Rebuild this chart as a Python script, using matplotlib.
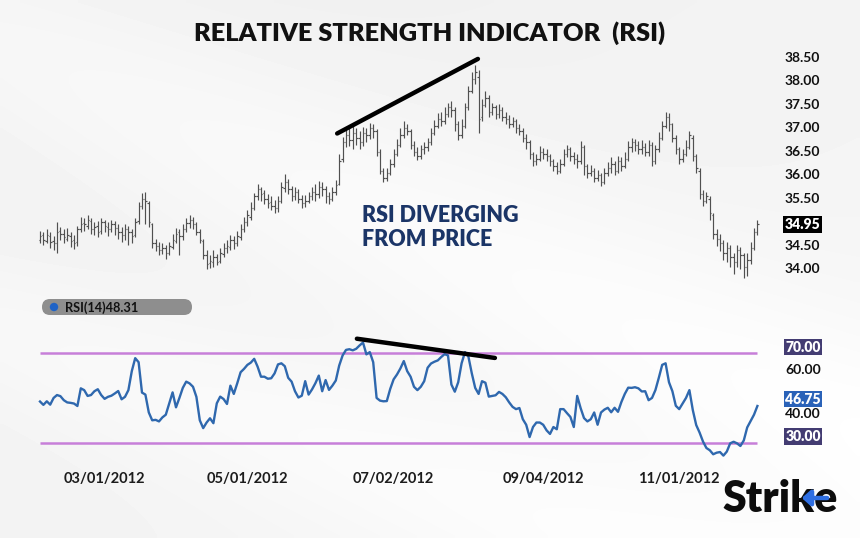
import numpy as np
import matplotlib
matplotlib.use("Agg")
import matplotlib.pyplot as plt
from matplotlib.patches import FancyBboxPatch, Circle
from matplotlib.transforms import offset_copy

plt.rcParams['font.family'] = ['Lato', 'DejaVu Sans']

# ---- data (one bar per trading day, Feb 2012 .. Dec 2012) ----
opens = [
    34.62, 34.72, 34.60, 34.70, 34.60, 34.55, 34.82, 34.75, 34.65, 34.70,
    34.62, 34.58, 34.85, 34.98, 34.92, 35.02, 34.85, 34.92, 34.82, 35.00,
    34.90, 34.85, 34.95, 34.88, 34.80, 34.72, 34.85, 34.78, 34.72, 35.02,
    35.35, 35.50, 35.40, 34.95, 34.55, 34.50, 34.40, 34.45, 34.35, 34.48,
    34.60, 34.78, 34.70, 34.85, 34.98, 35.05, 34.95, 34.80, 34.60, 34.30,
    34.12, 34.15, 34.25, 34.18, 34.32, 34.45, 34.48, 34.62, 34.55, 34.68,
    34.85, 35.00, 35.12, 35.30, 35.55, 35.70, 35.62, 35.50, 35.42, 35.35,
    35.30, 35.45, 35.72, 35.85, 35.70, 35.55, 35.65, 35.50, 35.40, 35.45,
    35.55, 35.65, 35.60, 35.75, 35.70, 35.55, 35.50, 35.65, 35.82, 36.35,
    36.70, 36.85, 36.75, 36.90, 36.80, 36.70, 36.90, 36.85, 37.00, 36.95,
    36.50, 36.10, 35.95, 36.05, 36.25, 36.45, 36.65, 36.85, 37.00, 36.95,
    36.65, 36.50, 36.40, 36.55, 36.60, 36.70, 36.90, 37.05, 37.20, 37.15,
    37.30, 37.45, 37.40, 37.10, 36.85, 37.05, 37.45, 37.80, 38.05, 38.10,
    37.25, 37.50, 37.65, 37.35, 37.45, 37.30, 37.40, 37.25, 37.20, 37.10,
    37.15, 37.00, 36.95, 36.80, 36.70, 36.45, 36.30, 36.35, 36.50, 36.45,
    36.40, 36.30, 36.20, 36.10, 36.25, 36.45, 36.55, 36.40, 36.35, 36.30,
    36.60, 36.20, 36.05, 36.10, 35.95, 36.00, 35.85, 36.05, 36.15, 36.25,
    36.10, 36.30, 36.20, 36.35, 36.60, 36.70, 36.65, 36.55, 36.60, 36.50,
    36.65, 36.30, 36.55, 36.80, 37.05, 37.25, 37.10, 36.80, 36.55, 36.35,
    36.45, 36.60, 36.80, 36.40, 36.10, 35.60, 35.45, 35.50, 35.15, 34.75,
    34.65, 34.55, 34.35, 34.45, 34.25, 34.15, 34.40, 34.30, 34.05, 34.20,
    34.45, 34.80,
]
highs = [
    34.82, 34.80, 34.85, 34.78, 34.70, 35.00, 34.90, 34.85, 34.88, 34.78,
    34.72, 34.92, 35.12, 35.08, 35.15, 35.08, 35.00, 35.02, 35.08, 35.05,
    35.00, 35.05, 35.02, 34.95, 34.90, 34.95, 34.92, 34.85, 35.08, 35.42,
    35.62, 35.65, 35.45, 34.98, 34.65, 34.58, 34.55, 34.52, 34.58, 34.75,
    34.88, 34.85, 34.95, 35.08, 35.15, 35.12, 35.00, 34.85, 34.65, 34.40,
    34.30, 34.40, 34.32, 34.45, 34.55, 34.62, 34.72, 34.70, 34.82, 34.95,
    35.10, 35.25, 35.42, 35.62, 35.82, 35.75, 35.68, 35.60, 35.55, 35.48,
    35.55, 35.85, 36.02, 35.92, 35.78, 35.75, 35.70, 35.58, 35.58, 35.65,
    35.75, 35.82, 35.88, 35.85, 35.78, 35.65, 35.75, 35.90, 36.45, 36.82,
    36.98, 37.02, 37.05, 37.00, 36.95, 37.02, 37.00, 37.12, 37.10, 36.98,
    36.55, 36.15, 36.15, 36.35, 36.55, 36.78, 37.00, 37.15, 37.10, 36.98,
    36.72, 36.60, 36.65, 36.70, 36.80, 37.00, 37.18, 37.32, 37.35, 37.45,
    37.55, 37.58, 37.45, 37.15, 37.20, 37.55, 37.90, 38.20, 38.35, 38.25,
    37.62, 37.80, 37.70, 37.55, 37.50, 37.52, 37.45, 37.35, 37.28, 37.25,
    37.20, 37.10, 37.00, 36.88, 36.75, 36.50, 36.45, 36.62, 36.58, 36.55,
    36.45, 36.35, 36.28, 36.35, 36.55, 36.65, 36.60, 36.50, 36.45, 36.72,
    36.65, 36.25, 36.22, 36.15, 36.12, 36.05, 36.15, 36.28, 36.38, 36.30,
    36.42, 36.38, 36.50, 36.72, 36.80, 36.78, 36.72, 36.75, 36.68, 36.75,
    36.70, 36.65, 36.92, 37.15, 37.35, 37.32, 37.12, 36.85, 36.60, 36.55,
    36.75, 36.95, 36.85, 36.45, 36.15, 35.68, 35.65, 35.55, 35.20, 34.85,
    34.75, 34.62, 34.58, 34.52, 34.35, 34.52, 34.48, 34.35, 34.35, 34.58,
    34.88, 35.05,
]
lows = [
    34.55, 34.52, 34.55, 34.45, 34.40, 34.35, 34.62, 34.55, 34.60, 34.48,
    34.42, 34.50, 34.78, 34.82, 34.85, 34.75, 34.72, 34.68, 34.75, 34.80,
    34.70, 34.78, 34.72, 34.65, 34.58, 34.62, 34.52, 34.55, 34.68, 34.95,
    35.28, 34.95, 34.90, 34.45, 34.38, 34.30, 34.32, 34.22, 34.30, 34.42,
    34.55, 34.30, 34.62, 34.80, 34.88, 34.85, 34.72, 34.55, 34.22, 34.00,
    34.02, 34.05, 34.08, 34.12, 34.25, 34.35, 34.40, 34.42, 34.50, 34.62,
    34.78, 34.92, 35.05, 35.25, 35.48, 35.45, 35.38, 35.30, 35.25, 35.20,
    35.22, 35.40, 35.65, 35.60, 35.45, 35.48, 35.40, 35.30, 35.32, 35.40,
    35.48, 35.45, 35.52, 35.55, 35.40, 35.38, 35.45, 35.58, 35.80, 36.28,
    36.60, 36.62, 36.55, 36.65, 36.55, 36.62, 36.70, 36.78, 36.80, 36.40,
    36.02, 35.85, 35.88, 36.00, 36.18, 36.40, 36.60, 36.80, 36.85, 36.55,
    36.42, 36.32, 36.35, 36.45, 36.52, 36.65, 36.85, 37.00, 37.05, 37.10,
    37.25, 37.25, 36.95, 36.75, 36.80, 37.00, 37.40, 37.75, 37.95, 36.90,
    37.15, 37.45, 37.25, 37.28, 37.20, 37.22, 37.15, 37.10, 37.00, 37.02,
    36.90, 36.85, 36.70, 36.55, 36.35, 36.20, 36.22, 36.30, 36.35, 36.30,
    36.20, 36.10, 36.02, 36.05, 36.20, 36.38, 36.30, 36.25, 36.15, 36.25,
    36.00, 35.95, 35.98, 35.85, 35.88, 35.78, 35.82, 35.98, 36.05, 36.00,
    36.05, 36.10, 36.15, 36.30, 36.50, 36.52, 36.45, 36.45, 36.40, 36.42,
    36.20, 36.25, 36.50, 36.75, 37.00, 36.95, 36.70, 36.45, 36.25, 36.28,
    36.40, 36.55, 36.30, 36.05, 35.50, 35.35, 35.40, 35.05, 34.65, 34.50,
    34.38, 34.20, 34.15, 34.05, 33.90, 34.05, 34.00, 33.80, 33.85, 34.10,
    34.40, 34.72,
]
closes = [
    34.70, 34.62, 34.72, 34.58, 34.55, 34.80, 34.75, 34.68, 34.72, 34.60,
    34.55, 34.85, 34.95, 34.95, 35.05, 34.85, 34.90, 34.80, 35.00, 34.92,
    34.85, 34.95, 34.88, 34.80, 34.72, 34.85, 34.78, 34.70, 35.00, 35.35,
    35.50, 35.45, 35.00, 34.55, 34.50, 34.40, 34.45, 34.35, 34.50, 34.62,
    34.75, 34.70, 34.85, 34.98, 35.05, 34.95, 34.80, 34.62, 34.30, 34.10,
    34.18, 34.25, 34.15, 34.35, 34.45, 34.50, 34.62, 34.55, 34.70, 34.85,
    35.00, 35.15, 35.30, 35.55, 35.70, 35.60, 35.50, 35.40, 35.35, 35.30,
    35.45, 35.75, 35.85, 35.70, 35.55, 35.65, 35.50, 35.40, 35.45, 35.55,
    35.65, 35.60, 35.75, 35.70, 35.55, 35.50, 35.65, 35.80, 36.30, 36.70,
    36.85, 36.75, 36.90, 36.80, 36.70, 36.90, 36.85, 37.00, 36.95, 36.50,
    36.10, 35.95, 36.05, 36.25, 36.45, 36.65, 36.85, 37.00, 36.95, 36.65,
    36.50, 36.40, 36.55, 36.60, 36.70, 36.90, 37.05, 37.20, 37.15, 37.30,
    37.45, 37.40, 37.10, 36.85, 37.05, 37.45, 37.80, 38.05, 38.20, 37.20,
    37.50, 37.65, 37.35, 37.45, 37.30, 37.40, 37.25, 37.20, 37.10, 37.15,
    37.00, 36.95, 36.80, 36.70, 36.45, 36.30, 36.35, 36.50, 36.45, 36.40,
    36.30, 36.20, 36.10, 36.25, 36.45, 36.55, 36.40, 36.35, 36.30, 36.60,
    36.20, 36.05, 36.10, 35.95, 36.00, 35.85, 36.05, 36.15, 36.25, 36.10,
    36.30, 36.20, 36.35, 36.60, 36.70, 36.65, 36.55, 36.60, 36.50, 36.65,
    36.30, 36.55, 36.80, 37.05, 37.25, 37.10, 36.80, 36.55, 36.35, 36.45,
    36.60, 36.85, 36.40, 36.15, 35.60, 35.45, 35.55, 35.20, 34.75, 34.65,
    34.55, 34.35, 34.45, 34.25, 34.15, 34.40, 34.30, 34.05, 34.20, 34.45,
    34.80, 34.95,
]
rsi = [
    48.4, 46.9, 48.5, 47.0, 50.0, 51.3, 50.8, 49.0, 48.0, 47.8,
    47.5, 46.4, 54.3, 53.5, 50.9, 51.3, 53.0, 53.9, 51.3, 49.6,
    50.5, 51.0, 52.0, 53.1, 49.4, 50.5, 53.5, 62.0, 67.8, 66.0,
    52.4, 51.5, 43.5, 40.0, 40.2, 39.5, 41.3, 42.5, 47.5, 52.5,
    45.8, 50.0, 54.5, 57.3, 56.5, 55.0, 50.5, 40.0, 36.5, 39.0,
    40.9, 38.7, 47.6, 50.6, 49.5, 47.3, 55.5, 51.8, 56.5, 61.5,
    63.0, 64.8, 65.8, 67.5, 64.0, 59.5, 59.5, 58.6, 58.8, 61.0,
    65.0, 65.5, 64.2, 59.0, 57.3, 53.0, 50.2, 51.0, 57.5, 51.5,
    53.8, 56.6, 60.0, 53.0, 58.0, 53.6, 55.5, 57.8, 64.5, 69.0,
    71.5, 71.8, 71.3, 72.0, 73.5, 74.8, 69.5, 70.5, 66.0, 50.0,
    48.8, 48.5, 48.6, 54.0, 58.3, 60.5, 63.2, 66.5, 62.0, 59.5,
    55.0, 53.5, 55.0, 57.5, 63.5, 65.4, 66.2, 66.8, 68.3, 69.6,
    69.0, 56.0, 52.8, 57.0, 65.5, 70.5, 68.5, 61.0, 54.5, 51.8,
    57.5, 56.8, 50.6, 50.9, 51.2, 52.7, 51.8, 50.3, 48.0, 46.0,
    45.0, 45.5, 40.5, 38.0, 32.5, 37.0, 39.0, 39.0, 38.0, 35.5,
    33.9, 37.0, 36.0, 45.0, 45.0, 43.2, 41.5, 37.0, 50.9, 45.5,
    41.0, 39.5, 40.5, 43.5, 38.0, 43.5, 44.8, 45.6, 43.6, 45.6,
    43.8, 48.2, 51.8, 54.6, 54.5, 54.8, 54.3, 52.9, 53.0, 49.0,
    50.0, 53.5, 59.0, 64.8, 65.5, 57.0, 53.0, 46.5, 45.0, 47.5,
    50.0, 53.5, 44.6, 37.9, 34.5, 30.5, 27.6, 26.6, 24.8, 25.5,
    25.8, 24.2, 26.0, 29.7, 30.4, 29.7, 28.5, 31.0, 36.8, 39.6,
    42.5, 46.4,
]

date_ticks = [19, 61, 104, 148, 188]          # trading-day index of each label
date_labels = ['03/01/2012', '05/01/2012', '07/02/2012', '09/04/2012', '11/01/2012']
price_levels = [38.50, 38.00, 37.50, 37.00, 36.50, 36.00, 35.50, 34.50, 34.00]
last_price = 34.95
rsi_levels = [60.00, 40.00]
rsi_bands = [70.00, 30.00]
last_rsi = 46.75
rsi_badge = 'RSI(14)48.31'

# divergence trend lines (bar index, value)
price_trend_x = [87.4, 128.8]
price_trend_y = [36.89, 38.48]
rsi_trend_x = [93.2, 133.8]
rsi_trend_y = [76.5, 67.9]

W, H = 860, 538
BAND = '#c77fd9'
RSI_BLUE = '#2f68ae'
BOX_PURPLE = '#433c72'
NAVY = '#1b3567'


def px_box(left, top, right, bottom):
    return [left / W, 1 - bottom / H, (right - left) / W, (bottom - top) / H]


fig = plt.figure(figsize=(W / 100, H / 100), dpi=100)

# soft light-grey backdrop with a faint diagonal sheen
bg = fig.add_axes([0, 0, 1, 1])
gx, gy = np.meshgrid(np.linspace(0, W, 172), np.linspace(0, H, 108))
shade = 0.935 + 0.035 * (gx / W * 0.5 + gy / H * 0.5)
shade += 0.03 * np.exp(-((gx * 0.45 - gy + 40) / 120) ** 2)
shade += 0.025 * np.exp(-((gx * 0.35 - gy + 330) / 90) ** 2)
bg.imshow(np.clip(shade, 0, 1), cmap='gray', vmin=0, vmax=1,
          extent=(0, W, H, 0), aspect='auto', interpolation='bilinear')
bg.set_xlim(0, W)
bg.set_ylim(H, 0)
bg.axis('off')

idx = np.arange(len(closes))

# ---- price panel ----
ax = fig.add_axes(px_box(34.9, 50, 764.2, 285))
ax.set_xlim(-1.5, 213)
ax.set_ylim(33.66, 38.67)
ax.axis('off')
bar_col = '#505050'
ax.vlines(idx, lows, highs, color=bar_col, lw=0.85)
ax.hlines(opens, idx - 0.4, idx, color=bar_col, lw=0.85)
ax.hlines(closes, idx, idx + 0.4, color=bar_col, lw=0.85)
ax.plot(price_trend_x, price_trend_y, color='black', lw=3.2, solid_capstyle='round')

ptr = offset_copy(ax.get_yaxis_transform(), fig, x=20, y=0, units='dots')
for lv in price_levels:
    ax.text(1.0, lv, f'{lv:.2f}', transform=ptr, ha='left', va='center',
            fontsize=10, fontweight='bold', color='#111111')
ax.text(1.0, last_price, f'{last_price:.2f}', transform=ptr, ha='left', va='center',
        fontsize=10, fontweight='heavy', color='white',
        bbox=dict(facecolor='black', edgecolor='none', pad=1.2))

# ---- RSI panel ----
ax2 = fig.add_axes(px_box(34.9, 330, 764.2, 465))
ax2.set_xlim(-1.5, 213)
ax2.set_ylim(20.0, 80.4)
for s in ax2.spines.values():
    s.set_visible(False)
ax2.set_facecolor('none')
ax2.set_yticks([])
ax2.hlines(rsi_bands, 0, len(rsi) - 1, color=BAND, lw=1.8)
ax2.plot(idx, rsi, color=RSI_BLUE, lw=1.7)
ax2.plot(rsi_trend_x, rsi_trend_y, color='black', lw=3.2, solid_capstyle='round')
ax2.set_xticks(date_ticks)
ax2.set_xticklabels(date_labels, fontsize=10.5, fontweight='bold', color='#1c1c1c')
ax2.tick_params(axis='x', length=0, pad=5)

rtr = offset_copy(ax2.get_yaxis_transform(), fig, x=21, y=6, units='dots')
for lv in rsi_bands:
    ax2.text(1.0, lv, f'{lv:.2f}', transform=rtr, ha='left', va='center',
             fontsize=10, fontweight='heavy', color='white',
             bbox=dict(facecolor=BOX_PURPLE, edgecolor='none', pad=1.2))
for lv in rsi_levels:
    ax2.text(1.0, lv, f'{lv:.2f}', transform=rtr, ha='left', va='center',
             fontsize=10, fontweight='bold', color='#111111')
ax2.text(1.0, last_rsi, f'{last_rsi:.2f}', transform=rtr, ha='left', va='center',
         fontsize=10, fontweight='heavy', color='white',
         bbox=dict(facecolor='#2a62b8', edgecolor='none', pad=1.2))

# ---- RSI badge ----
bg.add_patch(FancyBboxPatch((42, 299), 150, 16, boxstyle='round,pad=0,rounding_size=8',
                            facecolor='#8e8e8e', edgecolor='none'))
bg.add_patch(Circle((54, 307), 4.2, facecolor='#1f63c6', edgecolor='none'))
bg.text(65, 307.5, rsi_badge, fontsize=9.2, fontweight='bold', color='#111111',
        ha='left', va='center')

# ---- titles / annotations ----
fig.text(430 / W, 1 - 33 / H, 'RELATIVE STRENGTH INDICATOR  (RSI)', ha='center',
         va='center', fontsize=18.3, fontweight='heavy', color='#111111')
bg.text(362, 215, 'RSI DIVERGING', fontsize=15.5, fontweight='heavy', color=NAVY,
        ha='left', va='center')
bg.text(362, 240, 'FROM PRICE', fontsize=15.5, fontweight='heavy', color=NAVY,
        ha='left', va='center')

# ---- logo ----
bg.text(722, 512, 'Strike', fontsize=31, fontweight='heavy', color='#0d0d0d',
        ha='left', va='baseline')
bg.annotate('', xy=(799, 498), xytext=(830, 498),
            arrowprops=dict(arrowstyle='-|>,head_length=0.5,head_width=0.45',
                            color='#2f6fe3', lw=3.2))

fig.savefig('out.png', dpi=100)
